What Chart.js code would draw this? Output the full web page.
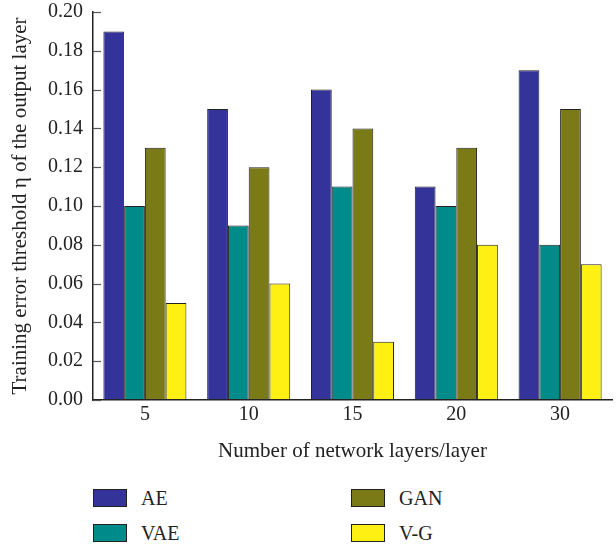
<!DOCTYPE html>
<html>
<head>
<meta charset="utf-8">
<script src="https://cdn.jsdelivr.net/npm/chart.js@4"></script>
<style>
    body { margin: 0; background: #fff; }
    #wrap { position: relative; width: 616px; height: 544px; }
    #chart-box { position: absolute; left: 0; top: 0; width: 616px; height: 464px; }
    #legend { position: absolute; left: 93px; top: 489px; width: 520px; display: grid; grid-template-columns: 258px 258px; row-gap: 17px; font-family: "Liberation Serif", serif; font-size: 20px; color: #222; }
    #legend .item { display: flex; align-items: center; height: 18px; }
    #legend .swatch { box-sizing: border-box; width: 34px; height: 18px; border: 1px solid #222; margin-right: 14px; }
</style>
</head>
<body>
<div id="wrap">
    <div id="chart-box"><canvas id="chart"></canvas></div>
    <div id="legend"></div>
</div>
<script>
const categories = ['5', '10', '15', '20', '30'];
const seriesNames = ['AE', 'VAE', 'GAN', 'V-G'];
const aeValues = [0.19, 0.15, 0.16, 0.11, 0.17];
const vaeValues = [0.10, 0.09, 0.11, 0.10, 0.08];
const ganValues = [0.13, 0.12, 0.14, 0.13, 0.15];
const vgValues = [0.05, 0.06, 0.03, 0.08, 0.07];
const yTicks = [0, 0.02, 0.04, 0.06, 0.08, 0.10, 0.12, 0.14, 0.16, 0.18, 0.20];

const colors = ['#333399', '#008b8b', '#7a7a16', '#fff014'];
const serif = '"Liberation Serif", serif';

const datasets = [aeValues, vaeValues, ganValues, vgValues].map((vals, i) => ({
    label: seriesNames[i],
    data: vals,
    backgroundColor: colors[i],
    borderColor: '#222',
    borderWidth: 1,
    borderSkipped: false,
    categoryPercentage: 0.8,
    barPercentage: 1.0,
    inflateAmount: 0
}));

// small tick marks pointing into the plot, like the original
const innerTicks = {
    id: 'innerTicks',
    afterDraw(chart) {
        const y = chart.scales.y;
        const ctx = chart.ctx;
        ctx.save();
        ctx.strokeStyle = '#555';
        ctx.lineWidth = 1.2;
        y.ticks.forEach(t => {
            const py = Math.round(y.getPixelForValue(t.value)) + 0.5;
            ctx.beginPath();
            ctx.moveTo(y.right, py);
            ctx.lineTo(y.right + 8, py);
            ctx.stroke();
        });
        ctx.restore();
    }
};

new Chart(document.getElementById('chart'), {
    type: 'bar',
    data: { labels: categories, datasets: datasets },
    plugins: [innerTicks],
    options: {
        responsive: true,
        maintainAspectRatio: false,
        animation: false,
        layout: { padding: { top: 12, right: 4, left: 0, bottom: 0 } },
        plugins: {
            legend: { display: false },
            tooltip: { enabled: false }
        },
        scales: {
            x: {
                grid: { display: false, drawTicks: false },
                border: { display: true, color: '#222', width: 1.5 },
                ticks: { color: '#222', padding: 3, font: { family: serif, size: 20 } },
                title: {
                    display: true,
                    text: 'Number of network layers/layer',
                    color: '#222',
                    font: { family: serif, size: 21 },
                    padding: { top: 4, bottom: 0 }
                },
                afterFit(scale) { scale.height = 64; }
            },
            y: {
                min: 0,
                max: 0.2,
                afterBuildTicks(scale) { scale.ticks = yTicks.map(v => ({ value: v })); },
                grid: { display: false, drawTicks: false },
                border: { display: true, color: '#222', width: 1.5 },
                ticks: {
                    color: '#222',
                    padding: 10,
                    font: { family: serif, size: 20 },
                    callback: v => Number(v).toFixed(2)
                },
                title: {
                    display: true,
                    text: 'Training error threshold η of the output layer',
                    color: '#222',
                    font: { family: serif, size: 21 },
                    padding: { top: 8, bottom: 2 }
                },
                afterFit(scale) {
                    scale.width = 93;
                    scale.paddingTop = 0;
                    scale.paddingBottom = 0;
                }
            }
        }
    }
});

const legend = document.getElementById('legend');
// two columns: AE, GAN / VAE, V-G
[0, 2, 1, 3].forEach(i => {
    const item = document.createElement('div');
    item.className = 'item';
    item.innerHTML = `<span class="swatch" style="background:${colors[i]}"></span><span>${seriesNames[i]}</span>`;
    legend.appendChild(item);
});
</script>
</body>
</html>
